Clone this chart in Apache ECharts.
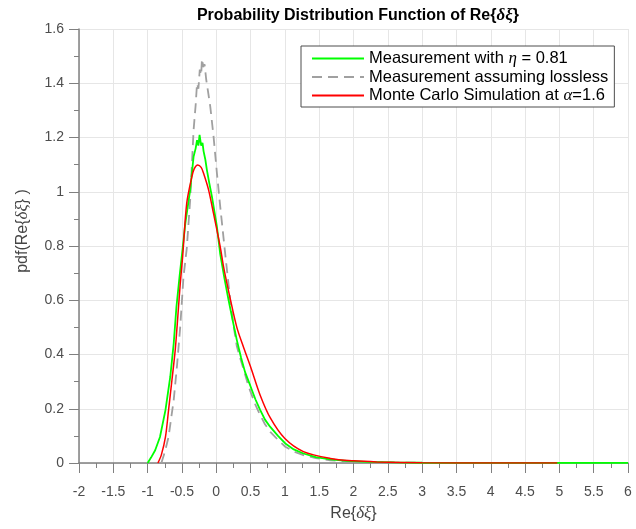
<!DOCTYPE html>
<html>
<head>
<meta charset="utf-8">
<script src="https://cdn.jsdelivr.net/npm/echarts@6/dist/echarts.min.js"></script>
<style>html,body{margin:0;padding:0;background:#fff;}#c{width:636px;height:529px;}</style>
</head>
<body>
<div id="c"></div>
<script>
// ---- data ----
const greenX = [-1.0,-0.95,-0.89,-0.82,-0.74,-0.67,-0.62,-0.58,-0.535,-0.49,-0.45,-0.38,-0.33,-0.30,-0.28,-0.26,-0.243,-0.22,-0.20,-0.185,-0.16,-0.136,-0.10,-0.063,0.01,0.058,0.12,0.18,0.24,0.30,0.36,0.42,0.496,0.57,0.641,0.71,0.787,0.90,1.006,1.13,1.27,1.45,1.66,1.90,2.2,2.6,3.0,4.0,5.0,6.0];
const greenY = [0,0.02,0.047,0.096,0.195,0.318,0.44,0.576,0.687,0.79,0.884,1.007,1.13,1.16,1.19,1.17,1.21,1.17,1.18,1.15,1.12,1.08,1.03,0.982,0.871,0.77,0.68,0.60,0.525,0.453,0.39,0.335,0.285,0.235,0.195,0.16,0.133,0.10,0.072,0.05,0.035,0.022,0.013,0.008,0.004,0.002,0.001,0.0005,0.0003,0.0002];

const grayX = [-0.80,-0.75,-0.695,-0.62,-0.573,-0.525,-0.477,-0.43,-0.38,-0.33,-0.30,-0.28,-0.26,-0.24,-0.22,-0.208,-0.19,-0.17,-0.146,-0.12,-0.087,-0.039,0.01,0.058,0.131,0.204,0.25,0.30,0.35,0.40,0.45,0.496,0.57,0.641,0.71,0.787,0.90,1.006,1.13,1.27,1.45,1.66,1.90,2.2,2.6,3.0];
const grayY = [0,0.04,0.096,0.232,0.355,0.502,0.687,0.79,0.97,1.228,1.32,1.40,1.38,1.45,1.43,1.49,1.46,1.47,1.413,1.37,1.314,1.203,1.068,0.945,0.77,0.60,0.51,0.43,0.385,0.345,0.30,0.265,0.215,0.176,0.143,0.115,0.085,0.06,0.042,0.029,0.018,0.01,0.006,0.003,0.0015,0.001];

const redX = [-0.85,-0.80,-0.74,-0.695,-0.646,-0.598,-0.56,-0.525,-0.49,-0.43,-0.355,-0.32,-0.27,-0.22,-0.185,-0.112,-0.04,0.058,0.106,0.20,0.30,0.40,0.50,0.64,0.79,1.0,1.27,1.66,2.0,2.34,3.0,4.0,4.97];
const redY = [0,0.03,0.096,0.195,0.305,0.416,0.54,0.66,0.76,0.958,1.056,1.085,1.099,1.09,1.068,1.007,0.92,0.797,0.724,0.61,0.50,0.425,0.355,0.25,0.165,0.09,0.042,0.017,0.008,0.004,0.001,0.0003,0];

const xTicks = {min: -2, max: 6, step: 0.5};
const yTicks = {min: 0, max: 1.6, step: 0.2};

const seriesNames = ['Measurement with η = 0.81', 'Measurement assuming lossless', 'Monte Carlo Simulation at α=1.6'];
const titleText = 'Probability Distribution Function of Re{{i|δξ}}';
const xName = 'Re{{i|δξ}}';
const yName = 'pdf(Re{{i|δξ}} )';

function pairs(xs, ys){ return xs.map((x,i)=>[x, ys[i]]); }

const FONT = 'Liberation Sans, Arial, Helvetica, sans-serif';
const ital = {fontFamily: 'Liberation Serif, DejaVu Serif, serif', fontStyle: 'italic'};

const chart = echarts.init(document.getElementById('c'), null, {renderer: 'canvas'});
chart.setOption({
  backgroundColor: '#fff',
  animation: false,
  title: {
    text: titleText,
    left: 353, top: 2, textAlign: 'center',
    textStyle: {fontFamily: FONT, fontSize: 16, fontWeight: 'bold', color: '#000',
      rich: {i: Object.assign({fontSize: 17, color: '#000'}, ital)}}
  },
  legend: {
    orient: 'vertical', left: 301, top: 46,
    padding: [4, 6, 3, 10],
    itemWidth: 52, itemHeight: 14, itemGap: 1.5,
    backgroundColor: '#fff', borderColor: '#4d4d4d', borderWidth: 1,
    itemStyle: {opacity: 0},
    data: seriesNames,
    formatter: function(name){
      if (name.indexOf('η') >= 0) return 'Measurement with {i|η} = 0.81';
      if (name.indexOf('α') >= 0) return 'Monte Carlo Simulation at {i|α}=1.6';
      return name;
    },
    textStyle: {fontFamily: FONT, fontSize: 16.5, lineHeight: 14, color: '#000',
      rich: {i: Object.assign({fontSize: 17, lineHeight: 14, color: '#000'}, ital)}}
  },
  grid: {left: 79, right: 8, top: 29, bottom: 66, containLabel: false},
  xAxis: {
    type: 'value', min: xTicks.min, max: xTicks.max, interval: xTicks.step,
    name: xName, nameLocation: 'middle', nameGap: 42,
    nameTextStyle: {fontFamily: FONT, fontSize: 16, color: '#444',
      rich: {i: Object.assign({fontSize: 17, color: '#444'}, ital)}},
    axisLine: {show: true, onZero: false, lineStyle: {color: '#808080', width: 1.5}},
    axisTick: {show: true, length: 10, lineStyle: {color: '#808080'}},
    minorTick: {show: true, splitNumber: 2, length: 5, lineStyle: {color: '#808080'}},
    axisLabel: {fontFamily: FONT, fontSize: 14, color: '#4d4d4d', margin: 22, showMinLabel: true, showMaxLabel: true},
    splitLine: {show: true, lineStyle: {color: '#e6e6e6', width: 1}}
  },
  yAxis: {
    type: 'value', min: yTicks.min, max: yTicks.max, interval: yTicks.step,
    name: yName, nameLocation: 'middle', nameGap: 48, nameRotate: 90,
    nameTextStyle: {fontFamily: FONT, fontSize: 16, color: '#444', padding: [0, 0, 0, 30],
      rich: {i: Object.assign({fontSize: 17, color: '#444'}, ital)}},
    axisLine: {show: true, onZero: false, lineStyle: {color: '#808080', width: 1.5}},
    axisTick: {show: true, length: 10, lineStyle: {color: '#808080'}},
    minorTick: {show: true, splitNumber: 2, length: 5, lineStyle: {color: '#808080'}},
    axisLabel: {fontFamily: FONT, fontSize: 14, color: '#4d4d4d', margin: 15, showMinLabel: true, showMaxLabel: true},
    splitLine: {show: true, lineStyle: {color: '#e6e6e6', width: 1}}
  },
  series: [
    {name: seriesNames[0], type: 'line', data: pairs(greenX, greenY), symbol: 'none', z: 3,
      lineStyle: {color: '#00ff00', width: 1.8}, itemStyle: {color: '#00ff00'}},
    {name: seriesNames[1], type: 'line', data: pairs(grayX, grayY), symbol: 'none', z: 2,
      lineStyle: {color: '#a0a0a0', width: 1.8, type: [10, 6]}, itemStyle: {color: '#a0a0a0'}},
    {name: seriesNames[2], type: 'line', data: pairs(redX, redY), symbol: 'none', z: 4, smooth: 0.3,
      lineStyle: {color: '#ff0000', width: 1.5}, itemStyle: {color: '#ff0000'}}
  ]
});
</script>
</body>
</html>
